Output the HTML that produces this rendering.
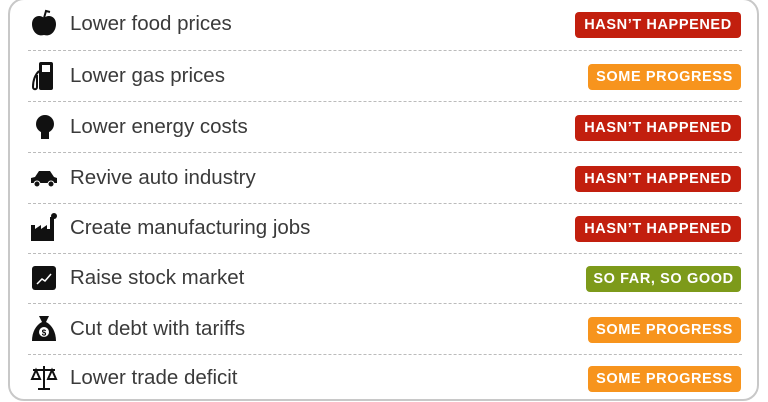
<!DOCTYPE html><html><head><style>
body{margin:0;width:768px;height:402px;background:#fff;overflow:hidden;font-family:"Liberation Sans",sans-serif}
.box{position:absolute;left:8px;top:-2px;width:751px;height:403px;border:2px solid #c8c8c8;border-radius:16px;box-sizing:border-box}
.row{position:absolute;left:0;width:768px;height:30px}
.t{position:absolute;left:70px;top:2px;font-size:20.5px;color:#3a3a3a;line-height:26px}
.b{position:absolute;right:27px;top:3px;height:26px;line-height:27px;border-radius:4px;color:#fff;font-weight:bold;font-size:14.5px;text-align:center;letter-spacing:0.6px}
.r{background:#c21f0e;width:166px}.o{background:#f7941d;width:153px}.g{background:#7d9a1a;width:155px}
.d{position:absolute;left:28px;width:714px;border-top:1px dashed #bbb}
.i{position:absolute;left:30px;top:0;width:28px;height:30px}
</style></head><body>
<div class="box"></div>
<div class="d" style="top:50px"></div><div class="d" style="top:101px"></div><div class="d" style="top:152px"></div><div class="d" style="top:203px"></div><div class="d" style="top:253px"></div><div class="d" style="top:303px"></div><div class="d" style="top:354px"></div>

<div class="row" style="top:9px"><svg class="i" viewBox="0 0 28 30"><path d="M14 9C10 5 2 7 2 15c0 7 5 13 12 11 7 2 12-4 12-11 0-8-8-10-12-6z" fill="#111"/><path d="M14 9l2-7 4 1" stroke="#111" stroke-width="2" fill="none"/></svg><div class="t">Lower food prices</div><div class="b r">HASN’T HAPPENED</div></div>
<div class="row" style="top:61px"><svg class="i" viewBox="0 0 28 30"><rect x="9" y="1" width="14" height="28" rx="2" fill="#111"/><rect x="12" y="4" width="8" height="7" fill="#fff"/><path d="M9 10C5 14 3 20 3 26c0 3 4 3 4 0V14" stroke="#111" stroke-width="2" fill="none"/></svg><div class="t">Lower gas prices</div><div class="b o">SOME PROGRESS</div></div>
<div class="row" style="top:112px"><svg class="i" viewBox="0 0 28 30"><circle cx="15" cy="12" r="9" fill="#111"/><rect x="11" y="19" width="8" height="8" fill="#111"/></svg><div class="t">Lower energy costs</div><div class="b r">HASN’T HAPPENED</div></div>
<div class="row" style="top:163px"><svg class="i" viewBox="0 0 28 30"><path d="M1 20v-5l4-1 4-6h11l4 6 3 1v5z" fill="#111"/><circle cx="7" cy="21" r="3" fill="#111" stroke="#fff"/><circle cx="21" cy="21" r="3" fill="#111" stroke="#fff"/></svg><div class="t">Revive auto industry</div><div class="b r">HASN’T HAPPENED</div></div>
<div class="row" style="top:213px"><svg class="i" viewBox="0 0 28 30"><path d="M1 28V12h4v4l6-4v4l6-4v4h3V4h4v24z" fill="#111"/><circle cx="24" cy="3" r="3" fill="#111"/></svg><div class="t">Create manufacturing jobs</div><div class="b r">HASN’T HAPPENED</div></div>
<div class="row" style="top:263px"><svg class="i" viewBox="0 0 28 30"><rect x="2" y="3" width="24" height="24" rx="3" fill="#111"/><path d="M7 21l5-5 3 2 6-7" stroke="#fff" stroke-width="1.5" fill="none"/></svg><div class="t">Raise stock market</div><div class="b g">SO FAR, SO GOOD</div></div>
<div class="row" style="top:314px"><svg class="i" viewBox="0 0 28 30"><path d="M9 2h10l-3 6c6 3 10 10 10 19H2C2 18 6 11 12 8z" fill="#111"/><circle cx="14" cy="18" r="5" fill="#fff"/><text x="14" y="21.5" font-size="8" text-anchor="middle" font-family="Liberation Sans" font-weight="bold">$</text></svg><div class="t">Cut debt with tariffs</div><div class="b o">SOME PROGRESS</div></div>
<div class="row" style="top:363px"><svg class="i" viewBox="0 0 28 30"><path d="M14 3v22M8 26h12M3 7h22M6 7l-4 9h8zM22 7l-4 9h8z" stroke="#111" stroke-width="2" fill="none"/></svg><div class="t">Lower trade deficit</div><div class="b o">SOME PROGRESS</div></div>
</body></html>
